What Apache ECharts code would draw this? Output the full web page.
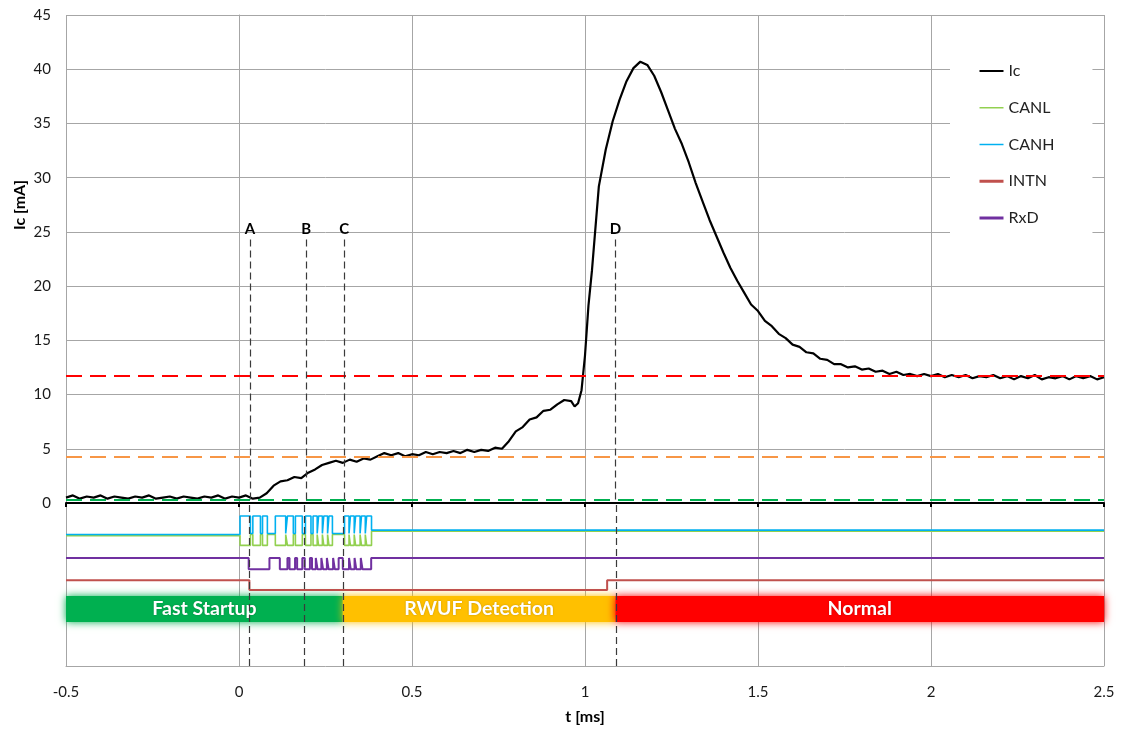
<!DOCTYPE html>
<html>
<head>
<meta charset="utf-8">
<title>Ic wake-up trace</title>
<script src="https://cdn.jsdelivr.net/npm/echarts@6/dist/echarts.min.js"></script>
<style>
  html, body { margin: 0; padding: 0; background: #fff; }
  #echart { width: 1129px; height: 729px; }
</style>
</head>
<body>
<div id="echart"></div>
<script>
// Ic current trace [ms, mA]
const icTime = [
  -0.50, -0.48, -0.46, -0.44, -0.42, -0.40, -0.38, -0.36, -0.34, -0.32,
  -0.30, -0.28, -0.26, -0.24, -0.22, -0.20, -0.18, -0.16, -0.14, -0.12,
  -0.10, -0.08, -0.06, -0.04, -0.02, 0.00, 0.02, 0.04, 0.06, 0.08,
  0.10, 0.12, 0.14, 0.16, 0.18, 0.20, 0.22, 0.24, 0.26, 0.28,
  0.30, 0.32, 0.34, 0.36, 0.38, 0.40, 0.42, 0.44, 0.46, 0.48,
  0.50, 0.52, 0.54, 0.56, 0.58, 0.60, 0.62, 0.64, 0.66, 0.68,
  0.70, 0.72, 0.74, 0.76, 0.78, 0.80, 0.82, 0.84, 0.86, 0.88,
  0.90, 0.92, 0.94, 0.96, 0.97, 0.98, 0.99, 1.00, 1.01, 1.02,
  1.04, 1.06, 1.08, 1.10, 1.12, 1.14, 1.16, 1.18, 1.20, 1.22,
  1.24, 1.26, 1.28, 1.30, 1.32, 1.34, 1.36, 1.38, 1.40, 1.42,
  1.44, 1.46, 1.48, 1.50, 1.52, 1.54, 1.56, 1.58, 1.60, 1.62,
  1.64, 1.66, 1.68, 1.70, 1.72, 1.74, 1.76, 1.78, 1.80, 1.82,
  1.84, 1.86, 1.88, 1.90, 1.92, 1.94, 1.96, 1.98, 2.00, 2.02,
  2.04, 2.06, 2.08, 2.10, 2.12, 2.14, 2.16, 2.18, 2.20, 2.22,
  2.24, 2.26, 2.28, 2.30, 2.32, 2.34, 2.36, 2.38, 2.40, 2.42,
  2.44, 2.46, 2.48, 2.50
];
const icValue = [
  0.5, 0.7, 0.4, 0.6, 0.5, 0.7, 0.4, 0.6, 0.5, 0.4,
  0.6, 0.5, 0.7, 0.4, 0.5, 0.6, 0.4, 0.6, 0.5, 0.4,
  0.6, 0.5, 0.7, 0.4, 0.6, 0.5, 0.7, 0.4, 0.5, 0.9,
  1.6, 2.0, 2.1, 2.4, 2.3, 2.8, 3.1, 3.5, 3.7, 3.9,
  3.7, 4.0, 3.8, 4.1, 4.0, 4.3, 4.6, 4.4, 4.6, 4.3,
  4.5, 4.4, 4.7, 4.5, 4.7, 4.6, 4.8, 4.6, 4.9, 4.7,
  4.9, 4.8, 5.1, 5.0, 5.7, 6.6, 7.0, 7.7, 7.9, 8.5,
  8.6, 9.1, 9.5, 9.4, 8.9, 9.2, 10.4, 13.6, 18.2, 21.4,
  29.2, 32.6, 35.2, 37.2, 38.9, 40.1, 40.7, 40.4, 39.4, 37.9,
  36.2, 34.5, 33.1, 31.4, 29.5, 27.8, 26.1, 24.6, 23.1, 21.7,
  20.5, 19.4, 18.3, 17.7, 16.8, 16.3, 15.6, 15.2, 14.6, 14.4,
  13.9, 13.8, 13.3, 13.2, 12.8, 12.8, 12.5, 12.6, 12.3, 12.4,
  12.1, 12.2, 11.9, 12.1, 11.8, 11.9, 11.7, 11.9, 11.7, 11.9,
  11.6, 11.8, 11.6, 11.8, 11.5, 11.7, 11.6, 11.8, 11.5, 11.7,
  11.4, 11.7, 11.5, 11.8, 11.4, 11.6, 11.5, 11.7, 11.4, 11.7,
  11.5, 11.7, 11.4, 11.6
];

// CAN bus signals (offset traces, step changes)
const canTime = [
  -0.5, 0.003, 0.033, 0.040, 0.062, 0.068, 0.082, 0.105, 0.135, 0.140,
  0.157, 0.163, 0.183, 0.192, 0.208, 0.214, 0.226, 0.230, 0.241, 0.245,
  0.256, 0.260, 0.270, 0.305, 0.318, 0.322, 0.333, 0.337, 0.350, 0.354,
  0.365, 0.369, 0.383, 2.5
];
const canhValue = [
  -2.9, -1.2, -2.8, -1.2, -2.8, -1.2, -2.8, -1.2, -2.8, -1.2,
  -2.8, -1.2, -2.8, -1.2, -2.8, -1.2, -2.8, -1.2, -2.8, -1.2,
  -2.8, -1.2, -2.8, -1.2, -2.8, -1.2, -2.8, -1.2, -2.8, -1.2,
  -2.8, -1.2, -2.5, -2.5
];
const canlValue = [
  -3.0, -3.9, -2.9, -3.9, -2.9, -3.9, -2.9, -3.9, -2.9, -3.9,
  -2.9, -3.9, -2.9, -3.9, -2.9, -3.9, -2.9, -3.9, -2.9, -3.9,
  -2.9, -3.9, -2.9, -3.9, -2.9, -3.9, -2.9, -3.9, -2.9, -3.9,
  -2.9, -3.9, -2.6, -2.6
];

const intnTime = [-0.5, 0.030, 1.064, 2.5];
const intnValue = [-7.1, -8.0, -7.1, -7.1];

const rxdTime = [
  -0.5, 0.028, 0.088, 0.118, 0.140, 0.146, 0.162, 0.168, 0.183, 0.190,
  0.205, 0.211, 0.222, 0.227, 0.238, 0.243, 0.254, 0.259, 0.272, 0.277,
  0.288, 0.300, 0.318, 0.323, 0.334, 0.339, 0.352, 0.357, 0.382, 2.5
];
const rxdValue = [
  -5.05, -6.1, -5.05, -6.1, -5.05, -6.1, -5.05, -6.1, -5.05, -6.1,
  -5.05, -6.1, -5.05, -6.1, -5.05, -6.1, -5.05, -6.1, -5.05, -6.1,
  -5.05, -6.1, -5.05, -6.1, -5.05, -6.1, -5.05, -6.1, -5.05, -5.05
];

// operating phases
const phaseName = ['Fast Startup', 'RWUF Detection', 'Normal'];
const phaseStart = [-0.5, 0.30, 1.088];
const phaseEnd = [0.30, 1.088, 2.5];

// event markers and thresholds
const markerName = ['A', 'B', 'C', 'D'];
const markerTime = [0.032, 0.194, 0.304, 1.088];
const markerTop = 24.3;
const thresholdValue = [11.7, 4.25, 0.3];

const phaseColor = ['#00b050', '#ffc000', '#ff0000'];
const thresholdColor = ['#ff0000', '#f79646', '#00b050'];
const FONT = 'Lato, "Liberation Sans", sans-serif';
const GRID_LINE = '#a6a6a6';
const MARKER_LINE = { color: '#3a3a3a', type: [7, 4], width: 1.2 };

const zip = (xs, ys) => xs.map((x, i) => [x, ys[i]]);

let myChart = echarts.init(document.getElementById('echart'));

// thresholds + upper part of the event markers (0 .. markerTop)
const upperMarks = thresholdValue.map((v, i) => ({
  yAxis: v,
  lineStyle: { color: thresholdColor[i], type: [16, 8], width: 2.2 },
  label: { show: false }
})).concat(markerTime.map((t, i) => [
  {
    coord: [t, markerTop],
    lineStyle: MARKER_LINE,
    label: {
      show: true, position: 'start', distance: 3, formatter: markerName[i],
      color: '#000', fontWeight: 'bold', fontSize: 15, fontFamily: FONT
    }
  },
  { coord: [t, 0] }
]));

// lower part of the event markers, through the signal panel
const lowerMarks = markerTime.map(t => ({
  xAxis: t, lineStyle: MARKER_LINE, label: { show: false }
}));

const phaseAreas = phaseName.map((name, i) => [
  {
    name: name,
    xAxis: phaseStart[i],
    yAxis: -8.55,
    itemStyle: { color: phaseColor[i], shadowBlur: 8, shadowColor: phaseColor[i] }
  },
  { xAxis: phaseEnd[i], yAxis: -10.95 }
]);

const option = {
  animation: false,
  textStyle: { fontFamily: FONT },
  grid: [
    { left: 66, right: 25, top: 15, height: 488 },
    { left: 66, right: 25, top: 503, bottom: 63 }
  ],
  legend: {
    orient: 'vertical',
    left: 950,
    top: 37,
    padding: [26, 38, 25, 28],
    itemGap: 20.75,
    itemWidth: 24,
    itemHeight: 14,
    backgroundColor: '#fff',
    itemStyle: { opacity: 0 },
    textStyle: { fontSize: 16, color: '#222', fontFamily: FONT },
    data: [
      { name: 'Ic', lineStyle: { width: 2 } },
      { name: 'CANL', lineStyle: { width: 1.5 } },
      { name: 'CANH', lineStyle: { width: 1.5 } },
      { name: 'INTN', lineStyle: { width: 3 } },
      { name: 'RxD', lineStyle: { width: 3 } }
    ]
  },
  xAxis: [
    {
      gridIndex: 0, type: 'value', min: -0.5, max: 2.5, interval: 0.5,
      axisLine: { onZero: false, lineStyle: { color: '#000', width: 2 } },
      axisTick: { show: true, length: 4, lineStyle: { color: '#000', width: 2 } },
      axisLabel: { show: false },
      splitLine: { show: true, lineStyle: { color: GRID_LINE, width: 1 } }
    },
    {
      gridIndex: 1, type: 'value', min: -0.5, max: 2.5, interval: 0.5,
      axisLine: { onZero: false, lineStyle: { color: GRID_LINE, width: 1 } },
      axisTick: { show: false },
      axisLabel: { margin: 19, fontSize: 15, color: '#1a1a1a', fontFamily: FONT },
      splitLine: { show: true, lineStyle: { color: GRID_LINE, width: 1 } },
      name: 't [ms]',
      nameLocation: 'middle',
      nameGap: 43,
      nameTextStyle: { fontWeight: 'bold', fontSize: 16, color: '#000', fontFamily: FONT }
    }
  ],
  yAxis: [
    {
      gridIndex: 0, type: 'value', min: 0, max: 45, interval: 5,
      axisLine: { show: true, lineStyle: { color: GRID_LINE } },
      axisTick: { show: false },
      axisLabel: { margin: 15, fontSize: 15, color: '#1a1a1a', fontFamily: FONT },
      splitLine: { show: true, lineStyle: { color: GRID_LINE, width: 1 } }
    },
    {
      gridIndex: 1, type: 'value', min: -15, max: 0,
      axisLine: { show: true, lineStyle: { color: GRID_LINE } },
      axisTick: { show: false },
      axisLabel: { show: false },
      splitLine: { show: false }
    }
  ],
  graphic: [
    {
      type: 'text',
      x: 20,
      y: 205,
      rotation: Math.PI / 2,
      style: {
        text: 'Ic [mA]',
        font: 'bold 16px ' + FONT,
        fill: '#000',
        align: 'center',
        verticalAlign: 'middle',
        textAlign: 'center',
        textVerticalAlign: 'middle'
      }
    }
  ],
  series: [
    {
      name: 'Ic', type: 'line', xAxisIndex: 0, yAxisIndex: 0,
      data: zip(icTime, icValue),
      symbol: 'none', z: 3,
      lineStyle: { color: '#000', width: 2.2 },
      itemStyle: { color: '#000' },
      markLine: { silent: true, symbol: 'none', animation: false, data: upperMarks }
    },
    {
      name: 'CANL', type: 'line', xAxisIndex: 1, yAxisIndex: 1,
      data: zip(canTime, canlValue), step: 'end', symbol: 'none',
      lineStyle: { color: '#92d050', width: 1.6 },
      itemStyle: { color: '#92d050' }
    },
    {
      name: 'CANH', type: 'line', xAxisIndex: 1, yAxisIndex: 1,
      data: zip(canTime, canhValue), step: 'end', symbol: 'none',
      lineStyle: { color: '#00b0f0', width: 1.6 },
      itemStyle: { color: '#00b0f0' }
    },
    {
      name: 'INTN', type: 'line', xAxisIndex: 1, yAxisIndex: 1,
      data: zip(intnTime, intnValue), step: 'end', symbol: 'none',
      lineStyle: { color: '#c0504d', width: 2 },
      itemStyle: { color: '#c0504d' },
      markArea: {
        silent: true,
        label: {
          show: true, position: 'inside', color: '#fff', fontWeight: 'bold',
          fontSize: 19.5, fontFamily: FONT,
          textShadowColor: 'rgba(0,0,0,0.25)', textShadowBlur: 2
        },
        data: phaseAreas
      }
    },
    {
      name: 'RxD', type: 'line', xAxisIndex: 1, yAxisIndex: 1,
      data: zip(rxdTime, rxdValue), step: 'end', symbol: 'none',
      lineStyle: { color: '#7030a0', width: 2 },
      itemStyle: { color: '#7030a0' },
      markLine: { silent: true, symbol: 'none', animation: false, data: lowerMarks }
    }
  ]
};

myChart.setOption(option);
</script>
</body>
</html>
